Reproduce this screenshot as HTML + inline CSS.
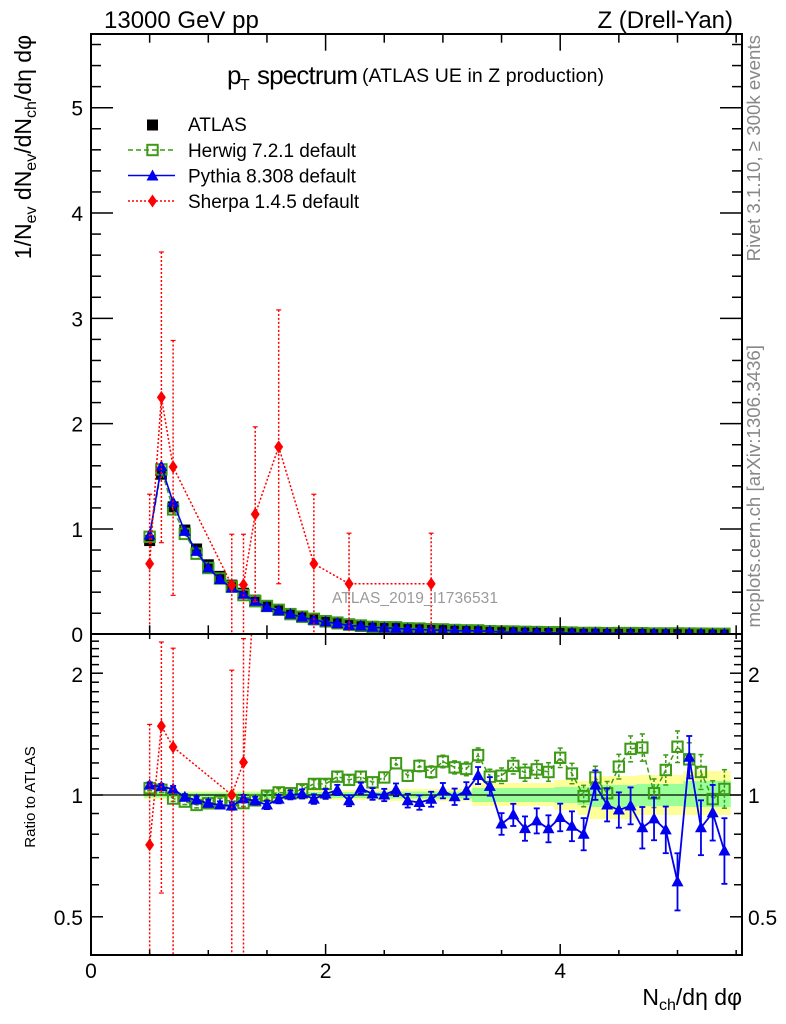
<!DOCTYPE html>
<html><head><meta charset="utf-8">
<style>
html,body{margin:0;padding:0;background:#fff;}
svg{display:block;}
text{font-family:"Liberation Sans",Arial,sans-serif;fill:#000;}
</style></head>
<body>
<svg id="s" width="786" height="1024" viewBox="0 0 786 1024" xmlns="http://www.w3.org/2000/svg">
<defs>
<clipPath id="ct"><rect x="91" y="34" width="651" height="600"/></clipPath>
<clipPath id="cb"><rect x="91" y="634" width="651" height="321"/></clipPath>
</defs>
<rect x="0" y="0" width="786" height="1024" fill="#fff"/>
<g id="bands" clip-path="url(#cb)"></g>
<line x1="91" y1="795" x2="742" y2="795" stroke="#000" stroke-width="1.2"/>
<g id="top" clip-path="url(#ct)"></g>
<g id="bot" clip-path="url(#cb)"></g>
<g id="ticks" stroke="#000" stroke-width="1.5"></g>
<rect x="91" y="34" width="651" height="600" fill="none" stroke="#000" stroke-width="2"/>
<rect x="91" y="634" width="651" height="321" fill="none" stroke="#000" stroke-width="2"/>
<g id="leg"></g>

<!-- header texts -->
<text x="104" y="28" font-size="24">13000 GeV pp</text>
<text x="733" y="28" font-size="24" text-anchor="end">Z (Drell-Yan)</text>
<text x="227" y="84" font-size="26">p</text>
<text x="240" y="90" font-size="16">T</text>
<text x="257" y="84" font-size="26" textLength="101" lengthAdjust="spacing">spectrum</text>
<text x="362" y="82" font-size="19.5" textLength="242" lengthAdjust="spacing">(ATLAS UE in Z production)</text>

<!-- legend texts -->
<text x="188" y="131" font-size="19">ATLAS</text>
<text x="188" y="157" font-size="19" textLength="168" lengthAdjust="spacing">Herwig 7.2.1 default</text>
<text x="188" y="182.5" font-size="19">Pythia 8.308 default</text>
<text x="188" y="208" font-size="19">Sherpa 1.4.5 default</text>

<!-- y tick labels top -->
<text x="83" y="642" font-size="21" text-anchor="end">0</text>
<text x="83" y="537" font-size="21" text-anchor="end">1</text>
<text x="83" y="431.7" font-size="21" text-anchor="end">2</text>
<text x="83" y="326.3" font-size="21" text-anchor="end">3</text>
<text x="83" y="221" font-size="21" text-anchor="end">4</text>
<text x="83" y="115.7" font-size="21" text-anchor="end">5</text>

<!-- ratio tick labels -->
<text x="83" y="682" font-size="21" text-anchor="end">2</text>
<text x="83" y="803" font-size="21" text-anchor="end">1</text>
<text x="83" y="925" font-size="21" text-anchor="end">0.5</text>
<text x="748" y="682" font-size="21">2</text>
<text x="748" y="803" font-size="21">1</text>
<text x="748" y="925" font-size="21">0.5</text>

<!-- x tick labels -->
<text x="91" y="978" font-size="21" text-anchor="middle">0</text>
<text x="325.6" y="978" font-size="21" text-anchor="middle">2</text>
<text x="560.2" y="978" font-size="21" text-anchor="middle">4</text>

<!-- axis titles -->
<text x="742" y="1005" font-size="23" text-anchor="end">N<tspan font-size="16" dy="5">ch</tspan><tspan dy="-5">/dη dφ</tspan></text>
<text transform="translate(31,35) rotate(-90)" text-anchor="end" font-size="23">1/N<tspan font-size="16" dy="5">ev</tspan><tspan dy="-5">&#160;dN</tspan><tspan font-size="16" dy="5">ev</tspan><tspan dy="-5">/dN</tspan><tspan font-size="16" dy="5">ch</tspan><tspan dy="-5">/dη dφ</tspan></text>
<text transform="translate(35,797) rotate(-90)" text-anchor="middle" font-size="15">Ratio to ATLAS</text>

<!-- side texts -->
<text transform="translate(760,35) rotate(-90)" text-anchor="end" font-size="18.7" style="fill:#888">Rivet 3.1.10, ≥ 300k events</text>
<text transform="translate(760,345) rotate(-90)" text-anchor="end" font-size="18.7" style="fill:#888">mcplots.cern.ch [arXiv:1306.3436]</text>
<text x="332" y="603" font-size="15.5" textLength="166" lengthAdjust="spacing" style="fill:#9a9a9a">ATLAS_2019_I1736531</text>
</svg>

<script>
(function(){
const NS="http://www.w3.org/2000/svg";
function el(p,t,a){const e=document.createElementNS(NS,t);for(const k in a)e.setAttribute(k,a[k]);p.appendChild(e);return e;}
const X=v=>91+v*117.3;
const YT=v=>634.3-v*105.32;
const YB=r=>795-121.8*Math.log2(r);
const G="#3c9a14", B="#0000ee", R="#ff0000";
const xs=[];for(let i=0;i<50;i++)xs.push(+(0.5+0.1*i).toFixed(2));
const atlas=[0.89,1.52,1.21,0.99,0.81,0.66,0.55,0.467,0.39,0.324,0.27,0.229,0.19,0.162,0.138,0.117,0.10,0.086,0.075,0.066];
for(let i=20;i<50;i++)atlas.push(0.066*Math.exp(-0.9*(xs[i]-2.4)));
const hw=[1.04,1.03,0.98,0.963,0.945,0.954,0.963,0.97,0.955,0.97,0.996,1.015,1.01,1.033,1.065,1.065,1.11,1.09,1.11,1.075,1.105,1.198,1.116,1.18,1.14,1.21,1.17,1.16,1.255,1.11,1.116,1.18,1.135,1.157,1.14,1.236,1.13,0.994,1.105,1.01,1.175,1.30,1.31,1.01,1.153,1.316,1.225,1.14,0.977,1.035];
const py=[1.058,1.048,1.035,0.987,0.972,0.954,0.945,0.939,0.979,0.968,0.945,0.977,1.0,1.006,0.977,1.006,1.029,0.968,1.039,1.006,1.0,1.03,0.968,0.958,0.976,1.025,0.99,1.025,1.117,1.05,0.848,0.893,0.826,0.863,0.825,0.88,0.837,0.80,1.058,0.945,0.918,0.94,0.83,0.873,0.82,0.61,1.24,0.83,0.904,0.727];
const sh=[[0.5,0.67,1.33,0],[0.6,2.25,3.63,0.87],[0.7,1.59,2.79,0.37],[1.2,0.467,0.95,0],[1.3,0.47,0.95,0],[1.4,1.14,1.97,0.31],[1.6,1.78,3.08,0.48],[1.9,0.67,1.33,0],[2.2,0.48,0.96,0],[2.9,0.48,0.96,0]];
function idx(x){return Math.round((x-0.5)*10);}
function sq(g,cx,cy,fill,stroke){
  if(fill) el(g,'rect',{x:cx-5.5,y:cy-5.5,width:11,height:11,fill:fill});
  else el(g,'rect',{x:cx-5.2,y:cy-5.2,width:10.4,height:10.4,fill:'none',stroke:stroke,'stroke-width':2});
}
function tri(g,cx,cy,c){el(g,'polygon',{points:(cx)+','+(cy-6.5)+' '+(cx-6)+','+(cy+4.5)+' '+(cx+6)+','+(cy+4.5),fill:c});}
function dia(g,cx,cy,c){el(g,'polygon',{points:cx+','+(cy-6.5)+' '+(cx+4.5)+','+cy+' '+cx+','+(cy+6.5)+' '+(cx-4.5)+','+cy,fill:c});}

/* ---------- top panel ---------- */
const gt=document.getElementById('top');
xs.forEach((x,i)=>sq(gt,X(x),YT(atlas[i]),'#000'));
el(gt,'polyline',{points:xs.map((x,i)=>X(x)+','+YT(atlas[i]*hw[i])).join(' '),fill:'none',stroke:G,'stroke-width':1.5,'stroke-dasharray':'5,3'});
xs.forEach((x,i)=>sq(gt,X(x),YT(atlas[i]*hw[i]),null,G));
el(gt,'polyline',{points:xs.map((x,i)=>X(x)+','+YT(atlas[i]*py[i])).join(' '),fill:'none',stroke:B,'stroke-width':1.6});
xs.forEach((x,i)=>tri(gt,X(x),YT(atlas[i]*py[i]),B));
el(gt,'polyline',{points:sh.map(p=>X(p[0])+','+YT(p[1])).join(' '),fill:'none',stroke:R,'stroke-width':1.5,'stroke-dasharray':'2,2'});
sh.forEach(p=>{
  const x=X(p[0]);const yt=YT(p[2]);const yb=p[3]>0?YT(p[3]):640;
  el(gt,'line',{x1:x,y1:yt,x2:x,y2:yb,stroke:R,'stroke-width':1.5,'stroke-dasharray':'2,2'});
  el(gt,'line',{x1:x-2.5,y1:yt,x2:x+2.5,y2:yt,stroke:R,'stroke-width':1.2});
  if(p[3]>0) el(gt,'line',{x1:x-2.5,y1:yb,x2:x+2.5,y2:yb,stroke:R,'stroke-width':1.2});
});
sh.forEach(p=>dia(gt,X(p[0]),YT(p[1]),R));

/* ---------- bands ---------- */
const gbd=document.getElementById('bands');
function band(x){
  if(x<1.45) return [4,4,2.5,2.5];
  if(x<2.45) return [5,5,3,3];
  if(x<3.25) return [6,6,3.5,3.5];
  if(x<3.95) return [12,11,7,7];
  if(x<4.15) return [15,15,8,8];
  if(x<4.25) return [14,20,8,10];
  if(x<4.65) return [19,24,10,12];
  if(x<5.05) return [20,20,11,11];
  return [24,20,14,12];
}
xs.forEach(x=>{const b=band(x);el(gbd,'rect',{x:X(x-0.05),y:795-b[0],width:12.2,height:b[0]+b[1],fill:'#ffff99'});});
xs.forEach(x=>{const b=band(x);el(gbd,'rect',{x:X(x-0.05),y:795-b[2],width:12.2,height:b[2]+b[3],fill:'#99ff99'});});

/* ---------- bottom panel ---------- */
const gb=document.getElementById('bot');
el(gb,'polyline',{points:xs.map((x,i)=>X(x)+','+YB(hw[i])).join(' '),fill:'none',stroke:G,'stroke-width':1.5,'stroke-dasharray':'5,3'});
xs.forEach((x,i)=>{
  const e=1.5+1.2*Math.exp(0.55*(x-0.5));const y=YB(hw[i]);const cx=X(x);
  el(gb,'line',{x1:cx,y1:y-e,x2:cx,y2:y+e,stroke:G,'stroke-width':1.5,'stroke-dasharray':'3,2'});
  el(gb,'line',{x1:cx-2.5,y1:y-e,x2:cx+2.5,y2:y-e,stroke:G,'stroke-width':1.5});
  el(gb,'line',{x1:cx-2.5,y1:y+e,x2:cx+2.5,y2:y+e,stroke:G,'stroke-width':1.5});
});
xs.forEach((x,i)=>sq(gb,X(x),YB(hw[i]),null,G));
el(gb,'polyline',{points:xs.map((x,i)=>X(x)+','+YB(py[i])).join(' '),fill:'none',stroke:B,'stroke-width':1.8});
xs.forEach((x,i)=>{
  const e=(1.5+1.4*Math.exp(0.6*(x-0.5)))*Math.pow(py[i],-0.5);const y=YB(py[i]);const cx=X(x);
  el(gb,'line',{x1:cx,y1:y-e,x2:cx,y2:y+e,stroke:B,'stroke-width':1.8});
  el(gb,'line',{x1:cx-3,y1:y-e,x2:cx+3,y2:y-e,stroke:B,'stroke-width':1.8});
  el(gb,'line',{x1:cx-3,y1:y+e,x2:cx+3,y2:y+e,stroke:B,'stroke-width':1.8});
});
xs.forEach((x,i)=>tri(gb,X(x),YB(py[i]),B));
const shr=sh.map(p=>{const a=atlas[idx(p[0])];return [p[0],p[1]/a,p[2]/a,p[3]/a];});
el(gb,'polyline',{points:shr.map(p=>X(p[0])+','+YB(p[1])).join(' '),fill:'none',stroke:R,'stroke-width':1.5,'stroke-dasharray':'2,2'});
shr.forEach(p=>{
  if(p[1]>2.5||p[1]<0.4) return;
  const x=X(p[0]);const yt=YB(p[2]);const yb=p[3]>0?YB(p[3]):1000;
  el(gb,'line',{x1:x,y1:yt,x2:x,y2:yb,stroke:R,'stroke-width':1.5,'stroke-dasharray':'2,2'});
  el(gb,'line',{x1:x-2.5,y1:yt,x2:x+2.5,y2:yt,stroke:R,'stroke-width':1.2});
  if(p[3]>0) el(gb,'line',{x1:x-2.5,y1:yb,x2:x+2.5,y2:yb,stroke:R,'stroke-width':1.2});
  dia(gb,x,YB(p[1]),R);
});

/* ---------- ticks ---------- */
const tk=document.getElementById('ticks');
function L(x1,y1,x2,y2){el(tk,'line',{x1:x1,y1:y1,x2:x2,y2:y2});}
for(let k=0;k<=28;k++){const v=k*0.2;const y=YT(v);if(y<35)continue;const len=(k%5==0)?22:10;
  L(91,y,91+len,y);L(742,y,742-len,y);}
for(let k=1;k<=11;k++){const v=k*0.5;const x=X(v);if(x>741)continue;const maj=(k%4==0);
  const lt=maj?16.7:8.7;L(x,34,x,34+lt);L(x,634,x,634-lt);
  const lb=maj?11:5;L(x,634,x,634+lb);L(x,955,x,955-lb);}
const rt=[];for(let r=0.5;r<2.55;r+=0.1)rt.push(+r.toFixed(2));
rt.forEach(r=>{const y=YB(r);if(y<635||y>954)return;const maj=(r==0.5||r==1||r==2);const len=maj?12:8;
  L(91,y,91+len,y);L(742,y,742-len,y);});

/* ---------- legend ---------- */
const lg=document.getElementById('leg');
sq(lg,152.5,125,'#000');
el(lg,'line',{x1:128,y1:150,x2:175,y2:150,stroke:G,'stroke-width':1.5,'stroke-dasharray':'5,3'});
sq(lg,152.5,150,null,G);
el(lg,'line',{x1:128,y1:175.5,x2:175,y2:175.5,stroke:B,'stroke-width':1.6});
tri(lg,152.5,176,B);
el(lg,'line',{x1:128,y1:201,x2:175,y2:201,stroke:R,'stroke-width':1.5,'stroke-dasharray':'2,2'});
dia(lg,152.5,201,R);
})();
</script>
</body></html>
